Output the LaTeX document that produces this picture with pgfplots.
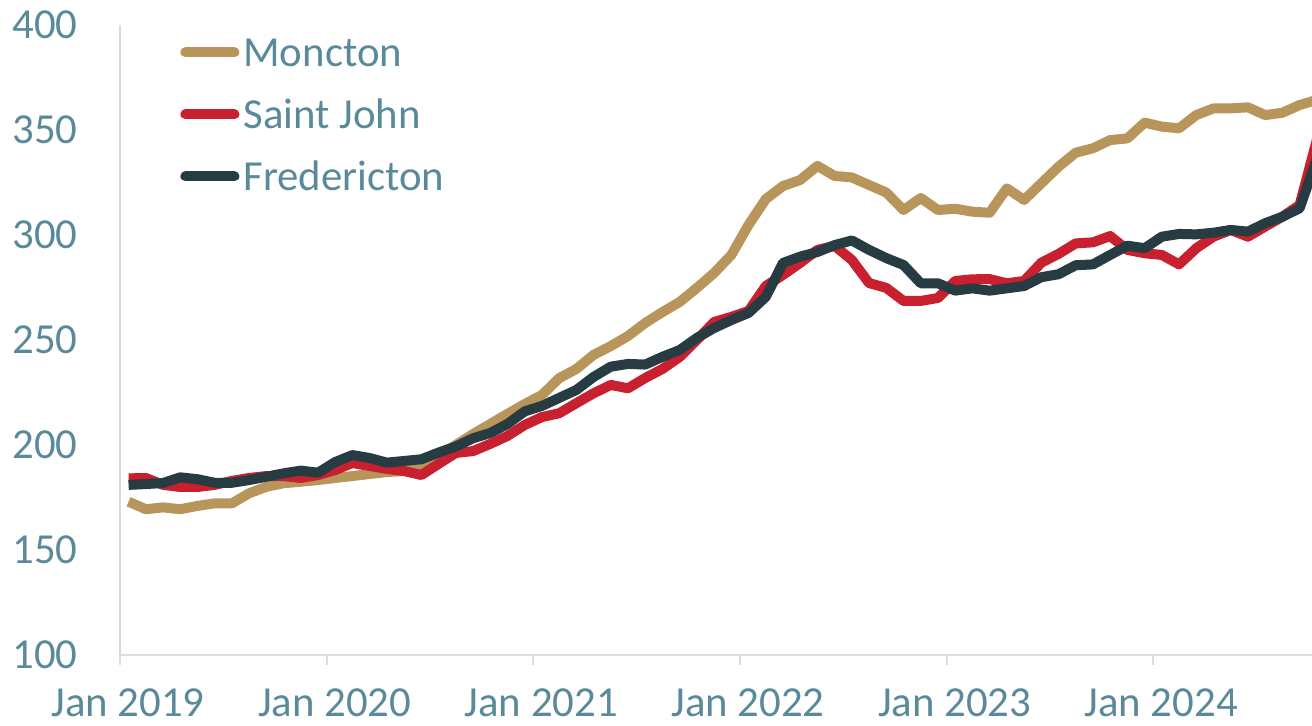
\documentclass[border=0pt]{standalone}
\usepackage{fontspec}
\setmainfont{Carlito}
\usepackage{pgfplots}
\usepackage{pgfplotstable}
\pgfplotsset{compat=1.18}
\definecolor{gold}{HTML}{B8955A}
\definecolor{sjred}{HTML}{C8202F}
\definecolor{fdark}{HTML}{263B42}
\definecolor{txt}{HTML}{5A8A99}
\definecolor{yax}{HTML}{D9D9D9}
\definecolor{xax}{HTML}{D5E0E5}

\pgfplotstableread{
x mon sj fr
0.5 173.0 184.1 181.0
1.5 169.4 184.3 181.4
2.5 170.3 181.0 181.9
3.5 169.4 180.0 184.6
4.5 171.0 180.0 183.7
5.5 172.2 181.0 182.0
6.5 172.2 182.9 182.0
7.5 177.0 184.3 183.3
8.5 180.1 185.2 184.9
9.5 181.8 185.2 186.5
10.5 182.5 184.3 187.8
11.5 183.3 185.7 186.8
12.5 184.3 188.1 191.9
13.5 185.2 191.4 195.2
14.5 186.2 190.0 193.8
15.5 187.1 188.6 191.6
16.5 187.6 187.6 192.4
17.5 189.5 185.7 193.2
18.5 194.8 191.0 196.4
19.5 200.0 196.2 199.3
20.5 205.2 197.1 203.2
21.5 210.0 200.5 205.7
22.5 214.8 204.3 210.0
23.5 219.5 209.5 216.0
24.5 223.8 213.3 218.6
25.5 231.8 215.1 222.4
26.5 236.2 219.9 226.2
27.5 242.9 224.6 232.4
28.5 247.1 228.6 237.3
29.5 251.9 227.0 238.6
30.5 258.1 231.9 238.3
31.5 263.3 236.2 242.0
32.5 268.1 241.9 245.2
33.5 274.8 250.0 251.0
34.5 281.9 258.6 255.7
35.5 290.5 261.0 259.5
36.5 304.8 263.8 262.9
37.5 317.1 275.7 270.5
38.5 323.3 281.0 286.7
39.5 326.2 286.7 289.7
40.5 332.9 292.9 291.9
41.5 328.1 294.8 295.2
42.5 327.4 288.1 297.4
43.5 323.8 277.1 292.9
44.5 320.2 274.8 289.0
45.5 311.9 268.6 285.7
46.5 317.6 268.6 277.0
47.5 311.9 270.0 277.0
48.5 312.5 278.1 273.5
49.5 311.1 278.9 274.6
50.5 310.6 279.0 273.5
51.5 322.2 277.0 274.6
52.5 316.7 278.1 275.7
53.5 324.6 286.8 279.9
54.5 332.5 291.0 281.3
55.5 339.2 296.0 285.6
56.5 341.3 296.5 286.0
57.5 345.2 299.5 290.5
58.5 346.0 292.9 294.9
59.5 353.5 291.3 293.7
60.5 351.6 290.5 299.2
61.5 350.8 286.0 300.5
62.5 357.1 293.7 300.3
63.5 360.3 299.2 301.1
64.5 360.3 302.4 302.4
65.5 360.8 299.2 301.6
66.5 357.1 304.0 305.6
67.5 358.2 308.7 308.7
68.5 361.9 314.3 312.7
69.5 364.3 345.2 336.2
}\data

\begin{document}
\begin{tikzpicture}
\begin{axis}[name=ax, scale only axis, width=596pt, height=315pt,
  xmin=0, xmax=69.22, ymin=100, ymax=400,
  axis x line*=bottom, axis y line*=left,
  x axis line style={draw=xax, line width=1.3pt},
  y axis line style={draw=yax, line width=1pt},
  xtick={0,12,24,36,48,60},
  xticklabels={Jan 2019,Jan 2020,Jan 2021,Jan 2022,Jan 2023,Jan 2024},
  ytick={100,150,200,250,300,350,400},
  tick align=outside, major tick length=5pt,
  xtick style={draw=xax, line width=1pt},
  ytick style={draw=none},
  tick label style={font=\fontsize{21.4}{25}\selectfont, text=txt},
  xticklabel style={anchor=base, yshift=-26pt, xshift=4pt},
  yticklabel style={anchor=east, inner sep=0pt, xshift=-16pt},
  /pgf/number format/assume math mode=true,
  legend cell align=left,
  legend style={at={(rel axis cs:0,1)}, anchor=north west, xshift=30pt, yshift=-6.5pt,
    draw=none, fill=none, font=\fontsize{21.4}{25}\selectfont, text=txt,
    row sep=17pt, column sep=2pt, inner sep=0pt,
    nodes={inner sep=0pt, text height=14pt, text depth=0pt}},
  legend image code/.code={\draw[#1, line width=5pt, line cap=round] (0pt,0pt) -- (24.5pt,0pt);},
]
\addplot[gold, line width=5pt, line join=round] table[x=x, y=mon] {\data};
\addlegendentry{Moncton}
\addplot[sjred, line width=5pt, line join=round] table[x=x, y=sj] {\data};
\addlegendentry{Saint John}
\addplot[fdark, line width=5pt, line join=round] table[x=x, y=fr] {\data};
\addlegendentry{Fredericton}
\end{axis}
\pgfresetboundingbox
\useasboundingbox ([shift={(-60pt,-35.5pt)}]ax.south west) rectangle ([shift={(0pt,12.5pt)}]ax.north east);
\end{tikzpicture}
\end{document}
